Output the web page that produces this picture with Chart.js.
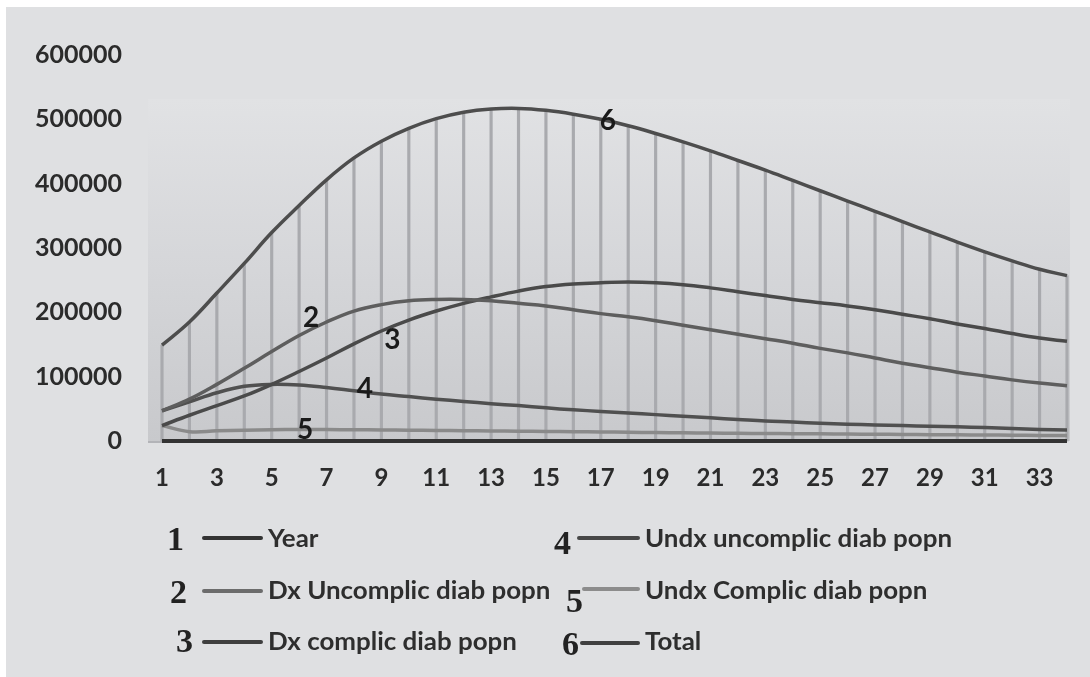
<!DOCTYPE html>
<html>
<head>
<meta charset="utf-8">
<title>Diabetic population projection</title>
<script src="https://cdn.jsdelivr.net/npm/chart.js@4.4.1/dist/chart.umd.min.js"></script>
<style>
  html, body { margin: 0; padding: 0; background: #ffffff; }
  #wrap { position: relative; width: 1090px; height: 677px; overflow: hidden; }
  #chart { position: absolute; left: 0; top: 0; }
  .key-num { position: absolute; font-family: 'Liberation Serif', serif; font-weight: 700;
             font-size: 34px; line-height: 34px; color: #222222; transform: translateY(-50%); }
  .key-seg { position: absolute; height: 4px; border-radius: 2px; transform: translateY(-50%); }
  .key-txt { position: absolute; font-family: Lato, sans-serif; font-weight: 700; font-size: 24px;
             line-height: 28px; color: #2e2e2e; white-space: nowrap;
             transform-origin: left center; transform: translateY(-50%) scaleX(1.08); }
</style>
</head>
<body>
<div id="wrap">
  <canvas id="chart" width="1090" height="677"></canvas>
</div>
<script>
// Simulation years (x categories)
const years = [1, 2, 3, 4, 5, 6, 7, 8, 9, 10, 11, 12, 13, 14, 15, 16, 17,
               18, 19, 20, 21, 22, 23, 24, 25, 26, 27, 28, 29, 30, 31, 32, 33, 34];

const seriesNames = ['Year', 'Dx Uncomplic diab popn', 'Dx complic diab popn',
                     'Undx uncomplic diab popn', 'Undx Complic diab popn', 'Total'];

// Series 1: the year counter itself (sits on the baseline at this scale)
const yearValues = [1, 2, 3, 4, 5, 6, 7, 8, 9, 10, 11, 12, 13, 14, 15, 16, 17,
                    18, 19, 20, 21, 22, 23, 24, 25, 26, 27, 28, 29, 30, 31, 32, 33, 34];

// Series 2: diagnosed, uncomplicated
const dxUncomplic = [47000, 65000, 88000, 113000, 139000, 164000, 185000, 202000, 212000, 218000,
                     220000, 220000, 218000, 214000, 210000, 204000, 198000, 193000, 187000, 180000,
                     173000, 166000, 159000, 152000, 144000, 137000, 129000, 121000, 114000, 107000,
                     101000, 95000, 90000, 86000];

// Series 3: diagnosed, complicated
const dxComplic = [24000, 40000, 55000, 70000, 88000, 108000, 129000, 151000, 171000, 188000,
                   202000, 214000, 224000, 233000, 240000, 244000, 246000, 247000, 246000, 243000,
                   238000, 232000, 226000, 220000, 215000, 210000, 204000, 197000, 190000, 182000,
                   175000, 167000, 160000, 155000];

// Series 4: undiagnosed, uncomplicated
const undxUncomplic = [47000, 61000, 75000, 85000, 88000, 87000, 83000, 78000, 73000, 69000,
                       65000, 61500, 58000, 55000, 51500, 48500, 46000, 43500, 41000, 38500,
                       36000, 33500, 31000, 29500, 27500, 26000, 25000, 24000, 23000, 22000,
                       21000, 19500, 18000, 17000];

// Series 5: undiagnosed, complicated
const undxComplic = [24000, 14500, 15800, 16800, 17500, 17800, 17800, 17500, 17200, 16800,
                     16400, 16000, 15600, 15200, 14800, 14400, 14000, 13600, 13200, 12800,
                     12400, 12000, 11700, 11400, 11100, 10800, 10500, 10200, 9900, 9600,
                     9300, 9000, 8700, 8400];

// Series 6: total diabetic population
const total = [149000, 185000, 230000, 276000, 324000, 366000, 406000, 440000, 466000, 486000,
               501000, 511000, 516000, 517000, 514000, 508000, 500000, 490000, 478000, 465000,
               451000, 436000, 421000, 405000, 389000, 373000, 357000, 341000, 325000, 309000,
               294000, 280000, 267000, 257000];

const yTicks = [0, 100000, 200000, 300000, 400000, 500000, 600000];

// Styling
const lineColors = ['#333333', '#5e5e5e', '#4a4a4a', '#505050', '#8a8a8a', '#4d4d4d'];
const keyColors  = ['#333333', '#6c6c6c', '#3f3f3f', '#474747', '#8c8c8c', '#404040'];

// Number tags placed next to a chosen point of each series
const tagSpots = [
  { ds: 1, idx: 5,  dx: 12, dy: -18 },
  { ds: 2, idx: 8,  dx: 11, dy: 9 },
  { ds: 3, idx: 7,  dx: 11, dy: -2 },
  { ds: 4, idx: 5,  dx: 6,  dy: 0 },
  { ds: 5, idx: 16, dx: 7,  dy: 2 }
];

// Key layout: number, line segment and caption for each series
const keySlots = [
  { nx: 167, ny: 539, sx1: 202, sx2: 263, sy: 538, tx: 268, ty: 538 },
  { nx: 170, ny: 592, sx1: 202, sx2: 263, sy: 591, tx: 268, ty: 590 },
  { nx: 176, ny: 641, sx1: 202, sx2: 263, sy: 642, tx: 268, ty: 641 },
  { nx: 554, ny: 543, sx1: 577, sx2: 640, sy: 538, tx: 645, ty: 538 },
  { nx: 566, ny: 601, sx1: 582, sx2: 640, sy: 589, tx: 645, ty: 590 },
  { nx: 562, ny: 644, sx1: 580, sx2: 640, sy: 643, tx: 645, ty: 641 }
];

const seriesData = [yearValues, dxUncomplic, dxComplic, undxUncomplic, undxComplic, total];

const lineSets = seriesData.map((vals, i) => ({
  type: 'line',
  label: seriesNames[i],
  data: vals,
  borderColor: lineColors[i],
  borderWidth: i === 0 ? 4 : 3.5,
  pointRadius: 0,
  pointHoverRadius: 0,
  tension: 0.4,
  fill: false,
  clip: 6,
  order: 1
}));

// Drop lines from the Total curve down to the axis
const dropLines = {
  type: 'bar',
  label: 'drop',
  data: total,
  backgroundColor: '#a9aaae',
  borderWidth: 0,
  barThickness: 2.5,
  clip: 4,
  order: 10
};

const backdrop = {
  id: 'backdrop',
  beforeDraw(chart) {
    const { ctx, chartArea: a, width, height } = chart;
    ctx.save();
    ctx.fillStyle = '#ffffff';
    ctx.fillRect(0, 0, width, height);
    ctx.fillStyle = '#dfe0e2';
    ctx.fillRect(6, 7, width - 6, height - 7);
    const left = a.left - 14, right = a.right + 3, top = a.top + 44, bottom = a.bottom;
    const g = ctx.createLinearGradient(0, top, 0, bottom);
    g.addColorStop(0, '#e1e2e4');
    g.addColorStop(0.5, '#d5d6d9');
    g.addColorStop(1, '#c8c9cc');
    ctx.fillStyle = g;
    ctx.fillRect(left, top, right - left, bottom - top);
    ctx.strokeStyle = '#b3b4b8';
    ctx.lineWidth = 2;
    ctx.beginPath();
    ctx.moveTo(left, bottom + 1);
    ctx.lineTo(a.left, bottom + 1);
    ctx.stroke();
    ctx.restore();
  }
};

const seriesTags = {
  id: 'seriesTags',
  afterDatasetsDraw(chart) {
    const { ctx } = chart;
    ctx.save();
    ctx.font = 'bold 28px Lato, sans-serif';
    ctx.fillStyle = '#1a1a1a';
    ctx.textAlign = 'center';
    ctx.textBaseline = 'middle';
    tagSpots.forEach(t => {
      const pt = chart.getDatasetMeta(t.ds).data[t.idx];
      ctx.fillText(String(t.ds + 1), pt.x + t.dx, pt.y + t.dy);
    });
    ctx.restore();
  }
};

Chart.defaults.font.family = 'Lato, sans-serif';

new Chart(document.getElementById('chart'), {
  type: 'line',
  data: { labels: years, datasets: [...lineSets, dropLines] },
  options: {
    responsive: false,
    animation: false,
    events: [],
    layout: { padding: { left: 32, right: 12, top: 48, bottom: 176 } },
    plugins: { legend: { display: false }, tooltip: { enabled: false } },
    scales: {
      x: {
        type: 'category',
        offset: false,
        grid: { display: false, drawTicks: false },
        border: { display: false },
        ticks: {
          autoSkip: false,
          maxRotation: 0,
          padding: 23,
          color: '#2b2b2b',
          font: { size: 24, weight: 'bold' },
          callback: (v, i) => (i % 2 === 0 ? years[i] : '')
        },
        afterFit(scale) { scale.height = 60; }
      },
      y: {
        min: yTicks[0],
        max: yTicks[yTicks.length - 1],
        grid: { display: false, drawTicks: false },
        border: { display: false },
        ticks: {
          stepSize: yTicks[1] - yTicks[0],
          padding: 40,
          color: '#2b2b2b',
          font: { size: 25, weight: 'bold' },
          callback: v => String(v)
        },
        afterFit(scale) { scale.width = 130; }
      }
    }
  },
  plugins: [backdrop, seriesTags]
});

// Series key below the chart
const wrap = document.getElementById('wrap');
keySlots.forEach((s, i) => {
  const n = document.createElement('div');
  n.className = 'key-num';
  n.textContent = String(i + 1);
  n.style.left = s.nx + 'px';
  n.style.top = s.ny + 'px';
  wrap.appendChild(n);

  const seg = document.createElement('div');
  seg.className = 'key-seg';
  seg.style.left = s.sx1 + 'px';
  seg.style.width = (s.sx2 - s.sx1) + 'px';
  seg.style.top = s.sy + 'px';
  seg.style.background = keyColors[i];
  wrap.appendChild(seg);

  const t = document.createElement('div');
  t.className = 'key-txt';
  t.textContent = seriesNames[i];
  t.style.left = s.tx + 'px';
  t.style.top = s.ty + 'px';
  wrap.appendChild(t);
});
</script>
</body>
</html>
